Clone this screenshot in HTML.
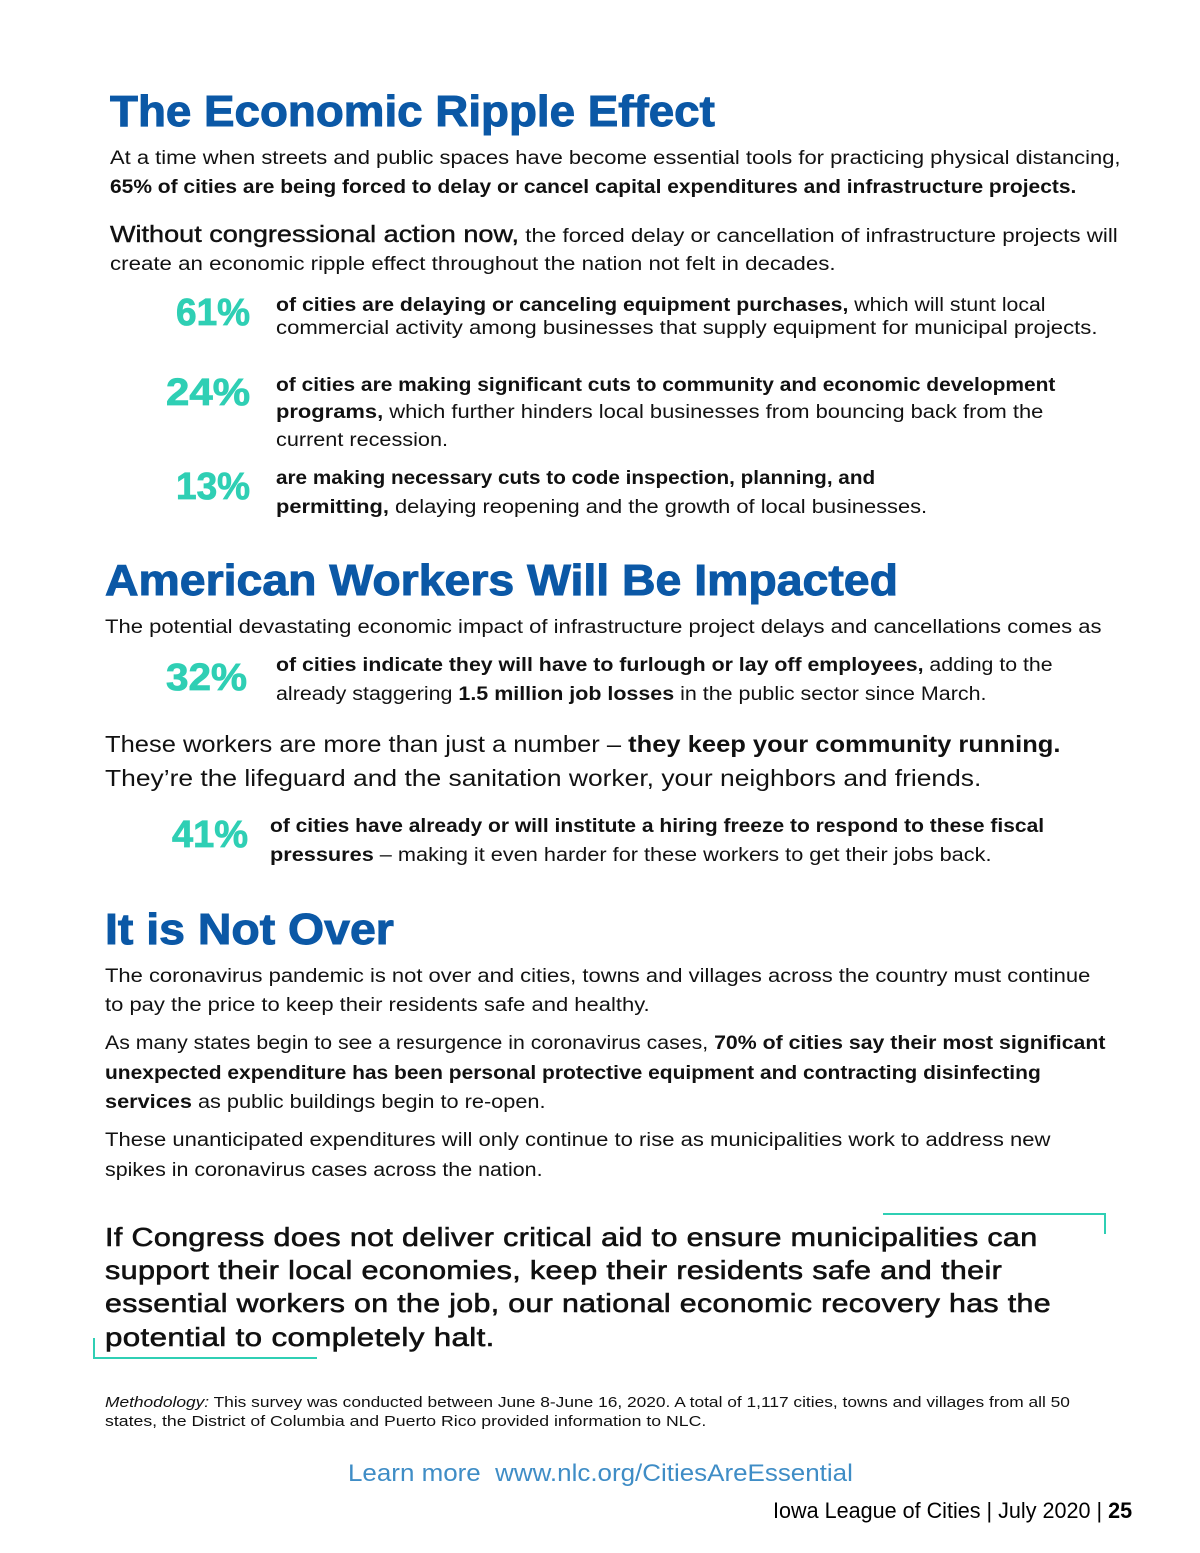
<!DOCTYPE html>
<html><head><meta charset="utf-8">
<style>
html,body{margin:0;padding:0;background:#fff;}
body{width:1200px;height:1553px;position:relative;overflow:hidden;font-family:"Liberation Sans",sans-serif;color:#111;}
.ln{position:absolute;white-space:nowrap;transform-origin:0 50%;line-height:1;}
.t{font-weight:bold;color:#0b58a6;font-size:44px;-webkit-text-stroke:1px #0b58a6;}
.p{font-size:19px;}
.pc{font-weight:bold;color:#2fcfb4;font-size:38px;-webkit-text-stroke:0.8px #2fcfb4;}
.c{font-size:26px;font-weight:normal;color:#111;letter-spacing:.3px;-webkit-text-stroke:0.6px #111;}
b{font-weight:bold;}
.br{position:absolute;border-color:#2fcfb4;border-style:solid;border-width:0;}
</style></head><body>
<div class="ln t" data-l="110" data-r="715" data-y="112">The Economic Ripple Effect</div>
<div class="ln p" data-l="110" data-r="1120" data-y="158">At a time when streets and public spaces have become essential tools for practicing physical distancing,</div>
<div class="ln p" data-l="110" data-r="1076" data-y="187"><b>65% of cities are being forced to delay or cancel capital expenditures and infrastructure projects.</b></div>
<div class="ln p" data-l="110" data-r="1118" data-y="234"><span style="font-size:23px;-webkit-text-stroke:0.4px #111">Without congressional action now,</span> the forced delay or cancellation of infrastructure projects will</div>
<div class="ln p" data-l="110" data-r="836" data-y="264">create an economic ripple effect throughout the nation not felt in decades.</div>

<div class="ln pc" data-l="176" data-r="250" data-y="313">61%</div>
<div class="ln p" data-l="276" data-r="1045" data-y="305"><b>of cities are delaying or canceling equipment purchases,</b> which will stunt local</div>
<div class="ln p" data-l="276" data-r="1097" data-y="328">commercial activity among businesses that supply equipment for municipal projects.</div>

<div class="ln pc" data-l="166" data-r="250" data-y="393">24%</div>
<div class="ln p" data-l="276" data-r="1055" data-y="385"><b>of cities are making significant cuts to community and economic development</b></div>
<div class="ln p" data-l="276" data-r="1043" data-y="412"><b>programs,</b> which further hinders local businesses from bouncing back from the</div>
<div class="ln p" data-l="276" data-r="448" data-y="440">current recession.</div>

<div class="ln pc" data-l="176" data-r="250" data-y="487">13%</div>
<div class="ln p" data-l="276" data-r="875" data-y="478"><b>are making necessary cuts to code inspection, planning, and</b></div>
<div class="ln p" data-l="276" data-r="927" data-y="507"><b>permitting,</b> delaying reopening and the growth of local businesses.</div>

<div class="ln t" data-l="105" data-r="898" data-y="581">American Workers Will Be Impacted</div>
<div class="ln p" data-l="105" data-r="1102" data-y="627">The potential devastating economic impact of infrastructure project delays and cancellations comes as</div>

<div class="ln pc" data-l="166" data-r="247" data-y="678">32%</div>
<div class="ln p" data-l="276" data-r="1053" data-y="665"><b>of cities indicate they will have to furlough or lay off employees,</b> adding to the</div>
<div class="ln p" data-l="276" data-r="986" data-y="694">already staggering <b>1.5 million job losses</b> in the public sector since March.</div>

<div class="ln p" data-l="105" data-r="1061" data-y="744" style="font-size:23px">These workers are more than just a number – <b>they keep your community running.</b></div>
<div class="ln p" data-l="105" data-r="981" data-y="778" style="font-size:23px">They’re the lifeguard and the sanitation worker, your neighbors and friends.</div>

<div class="ln pc" data-l="172" data-r="248" data-y="835">41%</div>
<div class="ln p" data-l="270" data-r="1044" data-y="826"><b>of cities have already or will institute a hiring freeze to respond to these fiscal</b></div>
<div class="ln p" data-l="270" data-r="992" data-y="855"><b>pressures</b> – making it even harder for these workers to get their jobs back.</div>

<div class="ln t" data-l="105" data-r="394" data-y="930">It is Not Over</div>
<div class="ln p" data-l="105" data-r="1090" data-y="976">The coronavirus pandemic is not over and cities, towns and villages across the country must continue</div>
<div class="ln p" data-l="105" data-r="650" data-y="1005">to pay the price to keep their residents safe and healthy.</div>
<div class="ln p" data-l="105" data-r="1105" data-y="1043">As many states begin to see a resurgence in coronavirus cases, <b>70% of cities say their most significant</b></div>
<div class="ln p" data-l="105" data-r="1041" data-y="1073"><b>unexpected expenditure has been personal protective equipment and contracting disinfecting</b></div>
<div class="ln p" data-l="105" data-r="546" data-y="1102"><b>services</b> as public buildings begin to re-open.</div>
<div class="ln p" data-l="105" data-r="1050" data-y="1140">These unanticipated expenditures will only continue to rise as municipalities work to address new</div>
<div class="ln p" data-l="105" data-r="543" data-y="1170">spikes in coronavirus cases across the nation.</div>

<div class="br" style="left:883px;top:1213px;width:221px;height:19px;border-top-width:2px;border-right-width:2px;"></div>
<div class="br" style="left:93px;top:1338px;width:222px;height:19px;border-bottom-width:2px;border-left-width:2px;"></div>
<div class="ln c" data-l="105" data-r="1038" data-y="1237">If Congress does not deliver critical aid to ensure municipalities can</div>
<div class="ln c" data-l="105" data-r="1002" data-y="1270">support their local economies, keep their residents safe and their</div>
<div class="ln c" data-l="105" data-r="1051" data-y="1303">essential workers on the job, our national economic recovery has the</div>
<div class="ln c" data-l="105" data-r="495" data-y="1337">potential to completely halt.</div>

<div class="ln" style="font-size:15px" data-l="105" data-r="1070" data-y="1402"><i>Methodology:</i> This survey was conducted between June 8-June 16, 2020. A total of 1,117 cities, towns and villages from all 50</div>
<div class="ln" style="font-size:15px" data-l="105" data-r="706" data-y="1421">states, the District of Columbia and Puerto Rico provided information to NLC.</div>

<div class="ln" style="font-size:24px;color:#3f8dc6" data-l="348" data-r="853" data-y="1474">Learn more&nbsp;&nbsp;www.nlc.org/CitiesAreEssential</div>
<div class="ln" style="font-size:22px;color:#000" data-l="773" data-r="1132" data-y="1511">Iowa League of Cities | July 2020 | <b>25</b></div>

<script>
document.querySelectorAll('.ln').forEach(function(el){
  var l=+el.dataset.l,r=+el.dataset.r,y=+el.dataset.y;
  var w=el.scrollWidth,h=el.offsetHeight;
  el.style.left=l+'px';
  el.style.top=(y-h/2)+'px';
  el.style.transform='scaleX('+((r-l)/w)+')';
});
</script>
</body></html>
